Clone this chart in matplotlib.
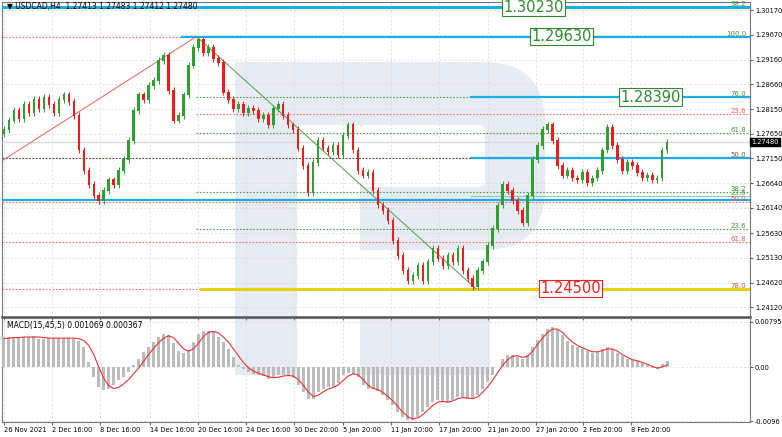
import numpy as np
import matplotlib

matplotlib.use("Agg")
import matplotlib.pyplot as plt
from matplotlib.patches import Rectangle, FancyBboxPatch

# ── Data ──────────────────────────────────────────────────────────
closes = [
    1.2773, 1.2793, 1.2813, 1.2797, 1.2824, 1.2809, 1.2834, 1.2817, 1.2838, 1.2824,
    1.2809, 1.2834, 1.2844, 1.2830, 1.2803, 1.2732, 1.2691, 1.2661, 1.2640, 1.2630,
    1.2650, 1.2671, 1.2661, 1.2691, 1.2712, 1.2752, 1.2813, 1.2844, 1.2834, 1.2864,
    1.2874, 1.2915, 1.2925, 1.2854, 1.2793, 1.2803, 1.2844, 1.2905, 1.2940, 1.2956,
    1.2931, 1.2940, 1.2919, 1.2911, 1.2850, 1.2834, 1.2817, 1.2824, 1.2809, 1.2817,
    1.2813, 1.2797, 1.2803, 1.2783, 1.2817, 1.2824, 1.2803, 1.2783, 1.2773, 1.2736,
    1.2701, 1.2646, 1.2707, 1.2752, 1.2736, 1.2728, 1.2742, 1.2722, 1.2762, 1.2783,
    1.2732, 1.2691, 1.2681, 1.2687, 1.2650, 1.2620, 1.2609, 1.2589, 1.2548, 1.2518,
    1.2487, 1.2467, 1.2477, 1.2497, 1.2467, 1.2504, 1.2532, 1.2512, 1.2497, 1.2518,
    1.2504, 1.2532, 1.2487, 1.2471, 1.2454, 1.2487, 1.2504, 1.2538, 1.2573, 1.2620,
    1.2661, 1.2650, 1.2630, 1.2609, 1.2585, 1.2640, 1.2712, 1.2742, 1.2773, 1.2783,
    1.2752, 1.2701, 1.2681, 1.2691, 1.2675, 1.2671, 1.2687, 1.2665, 1.2675, 1.2691,
    1.2732, 1.2777, 1.2742, 1.2712, 1.2691, 1.2707, 1.2701, 1.2687, 1.2675, 1.2681,
    1.2671, 1.2675, 1.2732, 1.2748,
]
first_open = 1.2765

# MACD histogram and signal, in units of 1e-4
macd_hist = [
    53, 53, 53, 53, 53, 53, 55, 50, 50, 51, 51, 51, 51, 51, 50, 46, 35, 9, -18, -35,
    -41, -39, -32, -23, -18, -9, 4, 14, 27, 35, 44, 53, 58, 57, 42, 28, 25, 30, 44, 58,
    64, 64, 62, 53, 44, 32, 18, 4, -4, -9, -12, -14, -16, -21, -18, -14, -14, -16, -19, -32,
    -44, -57, -57, -44, -39, -35, -35, -28, -14, -11, -12, -18, -32, -39, -39, -42, -50, -58, -67, -80,
    -88, -94, -94, -88, -80, -71, -62, -58, -62, -64, -58, -53, -53, -57, -57, -50, -39, -27, -14, 0,
    14, 21, 21, 18, 14, 21, 35, 48, 58, 67, 71, 65, 57, 46, 39, 35, 32, 28, 25, 27,
    32, 35, 32, 25, 19, 14, 12, 11, 7, 4, -2, -4, 5, 10.69,
]
macd_signal = [
    50, 51, 52, 52, 53, 53, 53, 53, 52, 51, 51, 51, 51, 51, 51, 50, 47, 38, 22, 0,
    -20, -33, -38, -36, -30, -22, -12, -2, 10, 22, 33, 43, 51, 55, 52, 42, 32, 28, 32, 42,
    54, 61, 63, 60, 53, 44, 32, 20, 8, -1, -7, -11, -14, -17, -19, -18, -16, -15, -16, -22,
    -32, -44, -52, -50, -44, -39, -36, -32, -24, -16, -12, -14, -22, -32, -38, -40, -45, -52, -60, -70,
    -80, -88, -92, -90, -84, -76, -68, -62, -61, -62, -60, -56, -54, -55, -56, -53, -45, -35, -23, -10,
    3, 13, 19, 20, 17, 19, 28, 40, 51, 61, 67, 67, 61, 52, 44, 38, 34, 30, 27, 27,
    29, 32, 32, 28, 22, 17, 13, 11, 8, 5, 1, -2, 0, 3.67,
]

time_labels = ["26 Nov 2021", "2 Dec 16:00", "8 Dec 16:00", "14 Dec 16:00", "20 Dec 16:00",
               "24 Dec 16:00", "30 Dec 20:00", "5 Jan 20:00", "11 Jan 20:00", "17 Jan 20:00",
               "21 Jan 20:00", "27 Jan 20:00", "2 Feb 20:00", "8 Feb 20:00"]
time_pos = [0, 9.6, 19.2, 29.2, 39.0, 48.6, 58.2, 68.0, 77.6, 87.2, 97.0, 106.6, 116.2, 125.8]
price_ticks = [1.30170, 1.29670, 1.29160, 1.28660, 1.28150, 1.27650, 1.27150,
               1.26640, 1.26140, 1.25630, 1.25130, 1.24620, 1.24120]

# (price, label, label colour)
fib_labels = [
    (1.30230, "38.2", "#3a9a3a"), (1.29630, "100.0", "#3a9a3a"), (1.28390, "76.0", "#3a9a3a"),
    (1.28050, "23.6", "#f06060"), (1.27670, "61.8", "#3a9a3a"), (1.27150, "50.0", "#7a5a2a"),
    (1.26460, "38.2", "#3a9a3a"), (1.26380, "23.6", "#3a9a3a"), (1.26270, "50.0", "#f06060"),
    (1.25710, "23.6", "#3a9a3a"), (1.25440, "61.8", "#f06060"), (1.24500, "78.0", "#c06030"),
]

W, H = 782, 437
BLUE = "#1aaee6"
GREEN_DOT = "#4aa04a"
RED_DOT = "#f07070"

fig = plt.figure(figsize=(W / 100, H / 100), dpi=100)

# background layer with the watermark, in pixel coordinates
bg = fig.add_axes([0, 0, 1, 1], zorder=0)
bg.set_xlim(0, W)
bg.set_ylim(H, 0)
bg.axis("off")
wm = "#e7ebf3"
bg.add_patch(FancyBboxPatch((235, 62), 310, 188, boxstyle="round,pad=0,rounding_size=62",
                            fc=wm, ec="none"))
bg.add_patch(Rectangle((297, 125), 63, 130, fc="white", ec="none"))
bg.add_patch(FancyBboxPatch((360, 125), 125, 62, boxstyle="round,pad=0,rounding_size=6",
                            fc="white", ec="none"))
bg.add_patch(Rectangle((235, 62), 62, 313, fc=wm, ec="none"))
bg.add_patch(Rectangle((360, 318), 130, 57, fc=wm, ec="none"))

ax = fig.add_axes([2 / W, (H - 317) / H, 748 / W, 315 / H], zorder=1, facecolor="none")
axm = fig.add_axes([2 / W, (H - 422) / H, 748 / W, 104 / H], zorder=1, facecolor="none")

n = len(closes)
idx = np.arange(n)
closes = np.array(closes)
opens = np.concatenate([[first_open], closes[:-1]])
up = closes >= opens
col = np.where(up, "#2f9f2f", "#ee1c1c")
wick = 0.0007
ax.vlines(idx, np.minimum(opens, closes) - wick, np.maximum(opens, closes) + wick,
          colors=col, lw=0.7, zorder=4)
ax.bar(idx, np.abs(closes - opens) + 0.0002, bottom=np.minimum(opens, closes) - 0.0001,
       width=0.5, color=col, zorder=5)

x0, x1 = -0.4, 149.6
ax.set_xlim(x0, x1)
ax.set_ylim(1.2392, 1.30333)

# fibonacci levels
def seg(y, a, b, color, lw=0.8, ls=(0, (1.5, 1.5))):
    ax.plot([a, b], [y, y], color=color, lw=lw, ls=ls, zorder=3)

seg(1.30230, x0, x1, BLUE, 2.2, "-")
seg(1.29630, x0, 35.6, RED_DOT)
seg(1.29630, 35.6, x1, BLUE, 1.6, "-")
seg(1.28390, 38.6, 93.6, GREEN_DOT)
seg(1.28390, 93.6, x1, BLUE, 1.6, "-")
seg(1.28050, 38.6, x1, RED_DOT)
seg(1.27670, 38.6, x1, GREEN_DOT)
seg(1.27150, x0, x1, "#5a4030")
seg(1.27150, 93.6, x1, BLUE, 1.6, "-")
seg(1.26460, 38.6, x1, GREEN_DOT)
seg(1.26380, 93.6, x1, "#7fc8c8", 0.8, "-")
seg(1.26300, x0, x1, BLUE, 1.6, "-")
seg(1.26270, x0, x1, RED_DOT)
seg(1.25710, 38.6, x1, GREEN_DOT)
seg(1.25440, x0, x1, RED_DOT)
seg(1.24500, x0, 39.6, RED_DOT)
seg(1.24500, 39.6, x1, "#e8d200", 2.2, "-")
seg(1.27480, x0, x1, "#d8d8d8", 0.9, "-")

ax.plot([x0, 38.6], [1.2710, 1.2963], color="#f06060", lw=0.7, zorder=3)
ax.plot([38.6, 94.6], [1.2963, 1.2450], color="#4aa04a", lw=0.7, zorder=3)

for y, lab, c in fib_labels:
    ax.text(148.8, y, lab, color=c, fontsize=5, ha="right", va="bottom", zorder=6)

def box(xc, y, text, color):
    ax.text(xc, y, text, color=color, fontsize=10.5, ha="center", va="center", zorder=7,
            bbox=dict(boxstyle="square,pad=0.1", fc="white", ec=color, lw=0.8))

box(106.2, 1.30230, "1.30230", "#2e8b2e")
box(111.8, 1.29630, "1.29630", "#2e8b2e")
box(129.6, 1.28390, "1.28390", "#2e8b2e")
box(113.6, 1.24500, "1.24500", "#ee2020")

ax.text(0.6, 1.30333 - 0.0001, "\u25bc USDCAD,H4  1.27413 1.27483 1.27412 1.27480",
        fontsize=5.5, va="top", ha="left", zorder=8)

# MACD panel
hist = np.array(macd_hist) * 1e-4
sig = np.array(macd_signal) * 1e-4
axm.bar(idx, hist, width=0.6, color="#bcbcbc", zorder=3)
axm.plot(idx, sig, color="#f03030", lw=0.8, zorder=4)
axm.set_xlim(x0, x1)
axm.set_ylim(-0.00972, 0.00866)
axm.text(0.6, 0.0081, "MACD(15,45,5) 0.001069 0.000367", fontsize=5.5, va="top", zorder=8)

for a in (ax, axm):
    a.yaxis.tick_right()
    a.tick_params(axis="both", labelsize=4.8, length=2, color="#666666", pad=1.5)
    a.grid(True, color="#d8d8d8", ls=(0, (3, 3)), lw=0.5)
    for s in a.spines.values():
        s.set_color("#777777")
        s.set_linewidth(0.8)
ax.spines["bottom"].set_linewidth(1.8)
ax.spines["bottom"].set_color("#555555")

ax.set_yticks(price_ticks)
ax.set_yticklabels([f"{p:.5f}" for p in price_ticks])
ax.set_xticks(time_pos)
ax.tick_params(axis="x", labelbottom=False)
axm.set_yticks([0.007955, 0.0, -0.0096])
axm.set_yticklabels(["0.007955", "0.00", "-0.0096"])
axm.set_xticks(time_pos)
axm.set_xticklabels(time_labels, ha="left")
axm.tick_params(axis="x", labelsize=4.8)

ax.text(x1 + 0.3, 1.27480, "1.27480", fontsize=4.8, color="white", va="center", ha="left",
        zorder=9, clip_on=False,
        bbox=dict(boxstyle="square,pad=0.15", fc="black", ec="black"))

fig.savefig("out.png", dpi=100)
